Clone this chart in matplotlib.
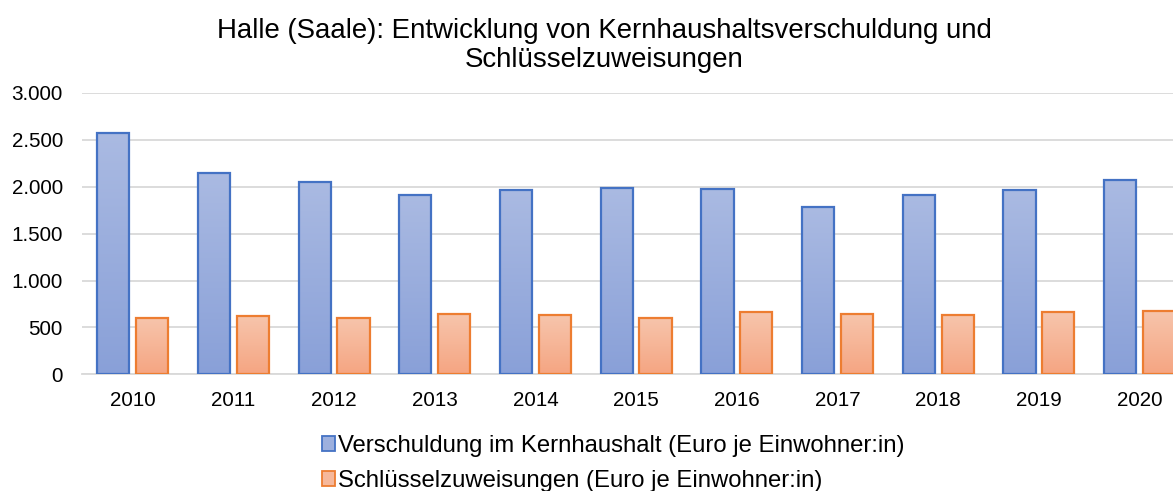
import matplotlib
matplotlib.use("Agg")
import matplotlib.pyplot as plt
import numpy as np
from matplotlib.patches import Patch
from matplotlib.ticker import FuncFormatter
from matplotlib.colors import LinearSegmentedColormap

years = ["2010", "2011", "2012", "2013", "2014", "2015", "2016", "2017", "2018", "2019", "2020"]
schulden = [2570, 2150, 2051, 1909, 1962, 1987, 1973, 1781, 1909, 1962, 2072]
zuweisungen = [600, 622, 604, 640, 629, 605, 661, 646, 636, 661, 672]

title = "Halle (Saale): Entwicklung von Kernhaushaltsverschuldung und\nSchlüsselzuweisungen"
label_s = "Verschuldung im Kernhaushalt (Euro je Einwohner:in)"
label_z = "Schlüsselzuweisungen (Euro je Einwohner:in)"

plt.rcParams['font.family'] = ['Liberation Sans', 'DejaVu Sans']

W, H = 1173, 491
fig = plt.figure(figsize=(W / 100, H / 100), dpi=100)
ax_left, ax_right = 82.3, 1190.0
ax_top, ax_bot = 93.0, 374.3
ax = fig.add_axes([ax_left / W, (H - ax_bot) / H, (ax_right - ax_left) / W, (ax_bot - ax_top) / H])

x = np.arange(len(years))
bw = 0.32
gap = 0.065
off = (bw + gap) / 2

blue_edge = "#4472C4"
orange_edge = "#ED7D31"
blue_cmap = LinearSegmentedColormap.from_list("b", [(137/255, 160/255, 216/255), (170/255, 186/255, 226/255)])
orange_cmap = LinearSegmentedColormap.from_list("o", [(245/255, 165/255, 130/255), (247/255, 197/255, 172/255)])

def grad_bars(xs, vals, cmap, edge):
    bars = ax.bar(xs, vals, width=bw, color=cmap(0.5), edgecolor="none", zorder=2)
    grad = np.linspace(0, 1, 256).reshape(-1, 1)
    for b in bars:
        bx, by = b.get_x(), b.get_y()
        im = ax.imshow(grad, cmap=cmap, origin="lower", aspect="auto",
                       extent=[bx, bx + b.get_width(), by, by + b.get_height()], zorder=2.5)
        im.set_clip_path(b)
    ax.bar(xs, vals, width=bw, fill=False, edgecolor=edge, linewidth=1.6, zorder=3)

grad_bars(x - off, schulden, blue_cmap, blue_edge)
grad_bars(x + off, zuweisungen, orange_cmap, orange_edge)

ax.set_xlim(-0.5, len(years) - 0.5)
ax.set_ylim(0, 3000)
ax.set_yticks(np.arange(0, 3001, 500))
ax.yaxis.set_major_formatter(FuncFormatter(lambda v, p: f"{int(v):,}".replace(",", ".")))
ax.set_xticks(x)
ax.set_xticklabels(years)
ax.tick_params(axis="both", length=0, labelsize=14.9, colors="#000000")
ax.tick_params(axis="y", pad=14)
ax.tick_params(axis="x", pad=12)
ax.grid(axis="y", color="#D9D9D9", linewidth=1.3, zorder=0)
ax.set_axisbelow(True)
for s in ["top", "right", "left"]:
    ax.spines[s].set_visible(False)
ax.spines["bottom"].set_color("#D9D9D9")
ax.spines["bottom"].set_linewidth(1.3)

fig.text(604 / W, 1 - 18 / H, title, ha="center", va="top", fontsize=19.9, linespacing=1.17)

handles = [Patch(facecolor=blue_cmap(0.6), edgecolor=blue_edge, linewidth=1.3, label=label_s),
           Patch(facecolor=orange_cmap(0.6), edgecolor=orange_edge, linewidth=1.3, label=label_z)]
fig.legend(handles=handles, loc="upper left", bbox_to_anchor=(322 / W, 1 - 435 / H), frameon=False,
           fontsize=17.2, handlelength=0.55, handleheight=0.55, handletextpad=0.12,
           labelspacing=0.55, borderpad=0, borderaxespad=0)

fig.savefig("out.png", dpi=100)
